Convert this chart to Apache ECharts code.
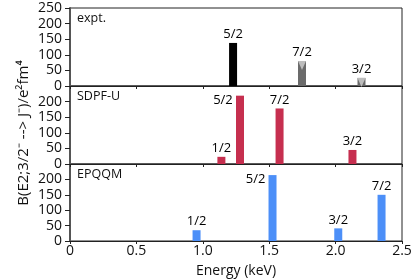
<!DOCTYPE html>
<html><head><meta charset="utf-8">
<script src="https://cdn.jsdelivr.net/npm/echarts@6/dist/echarts.min.js"></script>
<style>html,body{margin:0;padding:0;background:#fff}#c{width:416px;height:279px}</style>
</head><body><div id="c"></div>
<script>
// Data
const panelNames = ['expt.', 'SDPF-U', 'EPQQM'];
const xTicks = [0, 0.5, 1.0, 1.5, 2.0, 2.5];
const yTicks = [0, 50, 100, 150, 200, 250];

const exptEnergy = [1.228, 1.747, 2.195];
const exptValue  = [138, 80, 26];
const exptSpin   = ['5/2', '7/2', '3/2'];
const exptIsLimit = [false, true, true];

const sdpfEnergy = [1.14, 1.28, 1.578, 2.127];
const sdpfValue  = [23, 219, 178, 45];
const sdpfSpin   = ['1/2', '5/2', '7/2', '3/2'];

const epqqmEnergy = [0.953, 1.525, 2.02, 2.346];
const epqqmValue  = [35, 214, 41, 150];
const epqqmSpin   = ['1/2', '5/2', '3/2', '7/2'];

const yTitle = 'B(E2;3/2\u207B --> J\u207B)/e\u00B2fm\u2074';
const xTitle = 'Energy (keV)';

const FONT = 'Open Sans';
const tops = [8, 86, 164];
const H = 78;

const grids = tops.map(t => ({left: 70, width: 332, top: t, height: H, show: true, borderColor: '#222', borderWidth: 1, backgroundColor: 'transparent'}));

const xAxes = tops.map((t, i) => ({
  type: 'value', gridIndex: i, min: xTicks[0], max: xTicks[xTicks.length - 1], interval: 0.5,
  axisLine: {show: true, lineStyle: {color: '#222', width: 1}},
  axisTick: {show: true, length: 3, lineStyle: {color: '#222'}},
  splitLine: {show: false},
  axisLabel: {show: i === 2, color: '#111', fontFamily: FONT, fontSize: 14, margin: 3,
    formatter: v => (v === 0 ? '0' : v.toFixed(1))},
  name: i === 2 ? xTitle : '', nameLocation: 'middle', nameGap: 23,
  nameTextStyle: {color: '#111', fontFamily: FONT, fontSize: 14}
}));

const yAxes = tops.map((t, i) => ({
  type: 'value', gridIndex: i, min: yTicks[0], max: yTicks[yTicks.length - 1], interval: 50,
  axisLine: {show: true, lineStyle: {color: '#555', width: 2}},
  axisTick: {show: true, length: 5, lineStyle: {color: '#222'}},
  splitLine: {show: false},
  axisLabel: {color: '#111', fontFamily: FONT, fontSize: 14, margin: 8,
    formatter: v => (i > 0 && v === 250 ? '' : String(v))}
}));

const labelBase = {show: true, position: 'top', distance: 2, color: '#000', fontFamily: FONT, fontSize: 13};

function barSeries(idx, energy, value, spin, colorFn, shiftLeft) {
  return {
    type: 'bar', xAxisIndex: idx, yAxisIndex: idx, barWidth: 8,
    data: energy.map((e, k) => {
      const d = {value: [e, value[k]], itemStyle: {color: colorFn(k)},
        label: Object.assign({}, labelBase, {formatter: spin[k]})};
      if (shiftLeft(k)) d.label.offset = [-17, 13];
      return d;
    })
  };
}

const series = [
  barSeries(0, exptEnergy, exptValue, exptSpin, k => exptIsLimit[k] ? '#6b6b6b' : '#000', k => false),
  {
    type: 'scatter', xAxisIndex: 0, yAxisIndex: 0,
    symbol: 'path://M0,0 L10,0 L5,10 Z', symbolSize: [8, 9], symbolOffset: [0, '50%'],
    itemStyle: {color: '#d2d2d2'}, z: 5,
    data: exptEnergy.map((e, k) => [e, exptValue[k]]).filter((d, k) => exptIsLimit[k])
  },
  barSeries(1, sdpfEnergy, sdpfValue, sdpfSpin, k => '#c62f4f', k => sdpfSpin[k] === '5/2'),
  barSeries(2, epqqmEnergy, epqqmValue, epqqmSpin, k => '#4c8ff8', k => epqqmSpin[k] === '5/2')
];

const chart = echarts.init(document.getElementById('c'), null, {renderer: 'canvas'});
chart.setOption({
  animation: false,
  grid: grids, xAxis: xAxes, yAxis: yAxes, series: series,
  graphic: panelNames.map((n, i) => ({
    type: 'text', left: 77, top: tops[i] + 4,
    style: {text: n, fill: '#111', font: '12.5px "' + FONT + '"'}
  })).concat([{
    type: 'text', x: 24, y: 133, rotation: Math.PI / 2,
    style: {text: yTitle, fill: '#111', font: '15px "' + FONT + '"', align: 'center', verticalAlign: 'middle'}
  }])
});
</script></body></html>
